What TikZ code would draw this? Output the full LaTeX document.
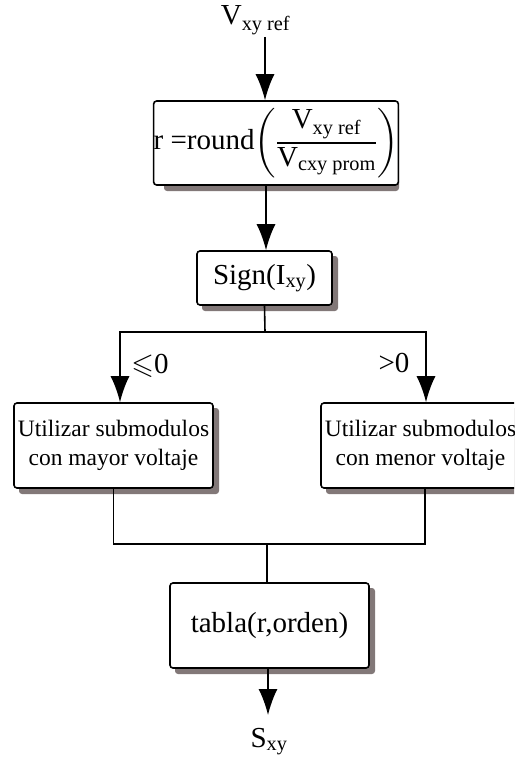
\documentclass[tikz,border=0pt]{standalone}
\usepackage{amssymb}
\usepackage{fontspec}
\setmainfont{Liberation Serif}
\usetikzlibrary{arrows.meta}
\definecolor{shadowgray}{RGB}{130,120,120}
\tikzset{
  box/.style={draw, line width=1.6pt, rounded corners=3pt, fill=white, inner sep=0pt, align=center},
  shadowbox/.style={fill=shadowgray, rounded corners=3pt},
  conn/.style={line width=1.6pt},
  arr/.style={conn, -{Latex[length=26pt,width=19pt]}},
  big/.style={font=\fontsize{29}{35}\selectfont},
  small/.style={font=\fontsize{23.5}{29}\selectfont},
  lbl/.style={big, inner sep=0pt, anchor=base},
}
\begin{document}
\begin{tikzpicture}[x=1pt,y=1pt]
\useasboundingbox (0,0) rectangle (514,-757);
\clip (0,0) rectangle (514,-757);
% shadows (drawn first, behind the boxes)
\fill[shadowbox] (164,-106) rectangle (399,-191);
\fill[shadowbox] (202,-256) rectangle (338,-311);
\fill[shadowbox] (19,-408) rectangle (219,-494);
\fill[shadowbox] (326,-408) rectangle (526,-494);
\fill[shadowbox] (175,-588) rectangle (375,-674);
% nodes
\node[lbl] (vin) at (255.5,-25) {V\textsubscript{xy ref}};
\coordinate (start) at (265,-37);
\node[box,big,minimum width=234pt,minimum height=84pt] (b1) at (276,-143)
  {r =round$\displaystyle\left(\frac{\mbox{V\textsubscript{xy ref}}}{\mbox{V\textsubscript{cxy prom}}}\right)$};
\node[box,big,minimum width=135pt,minimum height=54pt] (b2) at (264.5,-278) {Sign(I\textsubscript{xy})};
\coordinate (split) at (265,-332);
\node[box,small,minimum width=199pt,minimum height=85pt] (bl) at (113.5,-445.5)
  {Utilizar submodulos\\con mayor voltaje};
\node[box,small,minimum width=199pt,minimum height=85pt] (br) at (420.5,-445.5)
  {Utilizar submodulos\\con menor voltaje};
\coordinate (merge) at (267,-544);
\node[box,big,minimum width=199pt,minimum height=85pt] (b4) at (269.5,-625.5) {tabla(r,orden)};
\coordinate (tip) at (268,-715);
\node[lbl] (out) at (269,-747) {S\textsubscript{xy}};
\node[lbl] (le) at (150,-373) {$\leqslant$0};
\node[lbl] (gt) at (394,-372) {>0};
% connectors
\draw[arr] (start) -- (start |- b1.north);
\draw[arr] ([xshift=-10pt]b1.south) -- ([xshift=-10pt]b1.south |- b2.north);
\draw[conn] (b2.south) -- (split);
\draw[arr] (split) -| ([xshift=6.5pt]bl.north);
\draw[arr] (split) -| ([xshift=5.5pt]br.north);
\draw[conn] (bl.south) |- (merge) -| ([xshift=4.5pt]br.south);
\draw[conn] (merge) -- (merge |- b4.north);
\draw[arr] (b4.south -| tip) -- (tip);
\end{tikzpicture}
\end{document}
